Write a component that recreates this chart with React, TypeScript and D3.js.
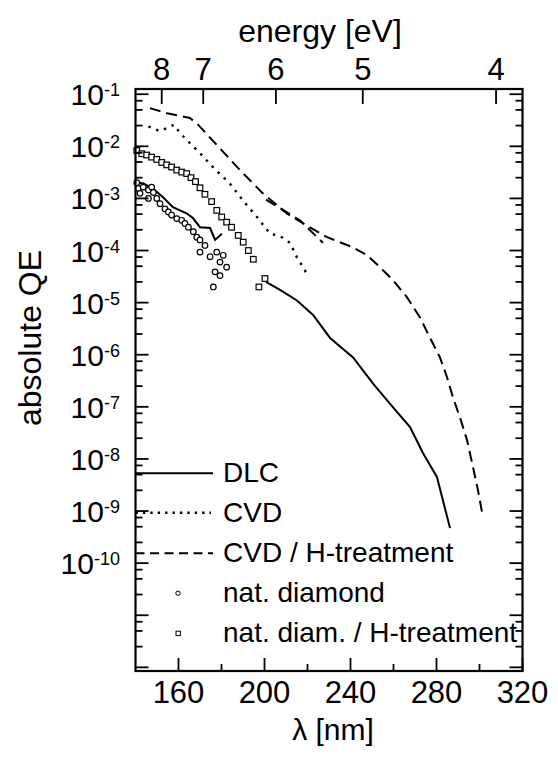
import React from 'react';
import * as d3 from 'd3';

// DLC, first part (below ~180 nm)
const dlcLambdaA = [140.2, 143.5, 148.1, 152.8, 157.4, 164.0, 166.7, 170.0, 174.7, 177.0, 180.2];
const dlcQEA = [2.0e-3, 1.95e-3, 1.55e-3, 1.05e-3, 6.8e-4, 5.1e-4, 4.2e-4, 2.8e-4, 2.7e-4, 1.6e-4, 2.1e-4];
// DLC, second part (above 200 nm)
const dlcLambdaB = [200.7, 207.2, 215.1, 222.6, 230.5, 241.2, 250.5, 259.8, 267.7, 273.7, 280.2, 286.3];
const dlcQEB = [2.5e-5, 1.75e-5, 1.1e-5, 5.8e-6, 2.1e-6, 8.9e-7, 2.8e-7, 9.8e-8, 4.1e-8, 1.3e-8, 4.5e-9, 4.7e-10];

const cvdLambda = [146.0, 151.4, 157.9, 160.7, 164.0, 170.0, 176.0, 184.0, 190.0, 196.5, 202.6, 207.2, 211.9, 215.1, 218.8, 219.8];
const cvdQE = [2.4e-2, 1.95e-2, 2.6e-2, 1.8e-2, 1.3e-2, 7.4e-3, 4.0e-3, 1.9e-3, 9.1e-4, 4.4e-4, 2.1e-4, 1.9e-4, 1.4e-4, 7.4e-5, 4.2e-5, 3.3e-5];

const cvdHLambda = [146.7, 154.7, 165.3, 169.1, 177.9, 188.6, 198.8, 210.5, 219.8, 229.1, 241.2, 247.7, 253.7, 259.8, 266.3, 272.3, 277.0, 281.6, 284.9, 287.7, 290.9, 294.2, 297.0, 299.3, 301.6];
const cvdHQE = [5.4e-2, 4.3e-2, 3.5e-2, 2.6e-2, 1.05e-2, 3.5e-3, 1.3e-3, 5.1e-4, 3.0e-4, 1.8e-4, 1.15e-4, 8.1e-5, 4.8e-5, 2.7e-5, 1.26e-5, 5.2e-6, 2.1e-6, 8.9e-7, 3.7e-7, 1.5e-7, 6.3e-8, 2.3e-8, 6.9e-9, 2.5e-9, 7.6e-10];
// short second branch of the CVD / H-treatment curve
const cvdHLambda2 = [200.7, 216.5, 227.2];
const cvdHQE2 = [9.5e-4, 3.8e-4, 1.4e-4];

const natLambda = [140.6, 141.3, 142.1, 143.6, 146.0, 146.0, 147.5, 148.3, 149.9, 151.4, 153.7, 155.3, 156.8, 159.2, 161.5, 163.0, 164.6, 166.9, 168.5, 170.0, 172.3, 170.0, 174.7, 177.8, 180.8, 179.3, 182.4, 177.0, 179.3, 176.2];
const natQE = [2.0e-3, 1.55e-3, 1.25e-3, 1.65e-3, 1.45e-3, 1.0e-3, 1.65e-3, 1.3e-3, 1.0e-3, 7.9e-4, 6.3e-4, 5.5e-4, 4.8e-4, 4.1e-4, 3.8e-4, 3.3e-4, 2.8e-4, 2.3e-4, 1.8e-4, 1.6e-4, 1.25e-4, 9.3e-5, 7.6e-5, 9.3e-5, 8.1e-5, 6.0e-5, 4.8e-5, 3.9e-5, 3.3e-5, 2.0e-5];

const natHLambda = [140.6, 142.9, 145.2, 147.5, 149.9, 152.2, 154.5, 156.8, 159.2, 161.5, 163.8, 165.8, 167.9, 170.0, 172.3, 175.4, 177.8, 180.1, 182.4, 184.7, 187.8, 190.1, 192.5, 194.8, 197.4, 200.2];
const natHQE = [8.3e-3, 7.2e-3, 6.8e-3, 6.2e-3, 5.6e-3, 4.9e-3, 4.4e-3, 4.0e-3, 3.5e-3, 3.2e-3, 3.0e-3, 2.5e-3, 2.1e-3, 1.6e-3, 1.2e-3, 8.7e-4, 5.9e-4, 4.4e-4, 3.5e-4, 2.8e-4, 1.95e-4, 1.45e-4, 1.0e-4, 6.8e-5, 2.0e-5, 2.9e-5];

const lambdaTicks = [160, 200, 240, 280, 320];
const lambdaMinor = [180, 220, 260, 300];
const energyLabels = ['8', '7', '6', '5', '4'];
const energyTickNm = [152.2, 171.5, 205.3, 245.7, 307.7];
const decades = [-1, -2, -3, -4, -5, -6, -7, -8, -9, -10];

const legendNames = ['DLC', 'CVD', 'CVD / H-treatment', 'nat. diamond', 'nat. diam. / H-treatment'];

const font = '"Liberation Sans", Arial, Helvetica, sans-serif';

function App() {
  const left = 135.5, right = 522.5, top = 89, bottom = 671;

  const x = d3.scaleLinear().domain([140, 320]).range([left, right]);
  const y = d3.scaleLog().domain([Math.pow(10, -12.07), Math.pow(10, -0.9)]).range([bottom, top]);
  const [yLo, yHi] = y.domain();

  const toPts = (xs: number[], ys: number[]) => xs.map((l, i) => [l, ys[i]] as [number, number]);
  const line = d3.line<[number, number]>().x(d => x(d[0])).y(d => y(d[1]));

  // y ticks
  const major: number[] = [];
  const minor: number[] = [];
  for (let k = -13; k <= 0; k++) {
    const v = Math.pow(10, k);
    if (v >= yLo && v <= yHi) major.push(v);
    [2.5, 5, 7.5].forEach(m => {
      const w = m * v;
      if (w >= yLo && w <= yHi) minor.push(w);
    });
  }

  const legendY = (i: number) => 481.7 + i * 40;

  return (
    <svg width={558} height={760} style={{ position: 'absolute', left: 0, top: 0, background: '#fff' }}
      fontFamily={font}>
      <rect x={0} y={0} width={558} height={760} fill="#fff" />

      {/* data */}
      <g fill="none" stroke="#000">
        <path d={line(toPts(dlcLambdaA, dlcQEA)) || ''} strokeWidth={2} />
        <path d={line(toPts(dlcLambdaB, dlcQEB)) || ''} strokeWidth={2} />
        <path d={line(toPts(cvdLambda, cvdQE)) || ''} strokeWidth={2.4} strokeDasharray="2.4,6" />
        <path d={line(toPts(cvdHLambda, cvdHQE)) || ''} strokeWidth={2} strokeDasharray="11,6" />
        <path d={line(toPts(cvdHLambda2, cvdHQE2)) || ''} strokeWidth={2} strokeDasharray="11,6" />
      </g>
      <g fill="#fff" stroke="#000" strokeWidth={1.2}>
        {natLambda.map((l, i) => (
          <circle key={'c' + i} cx={x(l)} cy={y(natQE[i])} r={2.8} />
        ))}
        {natHLambda.map((l, i) => (
          <rect key={'s' + i} x={x(l) - 2.8} y={y(natHQE[i]) - 2.8} width={5.6} height={5.6} />
        ))}
      </g>

      {/* legend */}
      <g stroke="#000" fill="none">
        <line x1={left} x2={213} y1={legendY(0) - 8.5} y2={legendY(0) - 8.5} strokeWidth={2} />
        <line x1={left} x2={211} y1={legendY(1) - 9} y2={legendY(1) - 9} strokeWidth={2.4} strokeDasharray="2.4,5" />
        <line x1={left} x2={213} y1={legendY(2) - 8.5} y2={legendY(2) - 8.5} strokeWidth={2} strokeDasharray="9,5.5" />
        <circle cx={178} cy={legendY(3) - 8.5} r={2.2} fill="#fff" strokeWidth={1} />
        <rect x={176} y={legendY(4) - 10.5} width={4.4} height={4.4} fill="#fff" strokeWidth={1} />
      </g>
      <g fontSize={28} fill="#000">
        {legendNames.map((n, i) => (
          <text key={n} x={223} y={legendY(i)}>{n}</text>
        ))}
      </g>

      {/* frame and ticks */}
      <g stroke="#000" strokeWidth={1.8}>
        {major.map((v, i) => (
          <g key={'mj' + i}>
            <line x1={left} x2={left + 13} y1={y(v)} y2={y(v)} />
            <line x1={right} x2={right - 13} y1={y(v)} y2={y(v)} />
          </g>
        ))}
        {minor.map((v, i) => (
          <g key={'mn' + i}>
            <line x1={left} x2={left + 7} y1={y(v)} y2={y(v)} />
            <line x1={right} x2={right - 7} y1={y(v)} y2={y(v)} />
          </g>
        ))}
        {lambdaTicks.map(t => (
          <line key={'bt' + t} x1={x(t)} x2={x(t)} y1={bottom} y2={bottom - 13} />
        ))}
        {lambdaMinor.map(t => (
          <line key={'bm' + t} x1={x(t)} x2={x(t)} y1={bottom} y2={bottom - 7} />
        ))}
        {energyTickNm.map((t, i) => (
          <line key={'et' + i} x1={x(t)} x2={x(t)} y1={top} y2={top + 15} />
        ))}
      </g>
      <rect x={left} y={top} width={right - left} height={bottom - top} fill="none" stroke="#000" strokeWidth={2.2} />

      {/* tick labels */}
      <g fill="#000">
        {decades.map(k => (
          <text key={'yl' + k} x={120} y={y(Math.pow(10, k)) + 11} textAnchor="end" fontSize={30}>
            10<tspan fontSize={18} dy={-9}>{String(k)}</tspan>
          </text>
        ))}
        {lambdaTicks.map(t => (
          <text key={'xl' + t} x={x(t)} y={703} textAnchor="middle" fontSize={31}>{t}</text>
        ))}
        {energyLabels.map((e, i) => (
          <text key={'el' + e} x={x(energyTickNm[i])} y={80} textAnchor="middle" fontSize={31}>{e}</text>
        ))}
      </g>

      {/* axis titles */}
      <text x={320} y={42} textAnchor="middle" fontSize={32}>energy [eV]</text>
      <text x={333} y={740} textAnchor="middle" fontSize={30}>λ [nm]</text>
      <text transform="translate(41,338) rotate(-90)" textAnchor="middle" fontSize={32}>absolute QE</text>
    </svg>
  );
}

export default App;
